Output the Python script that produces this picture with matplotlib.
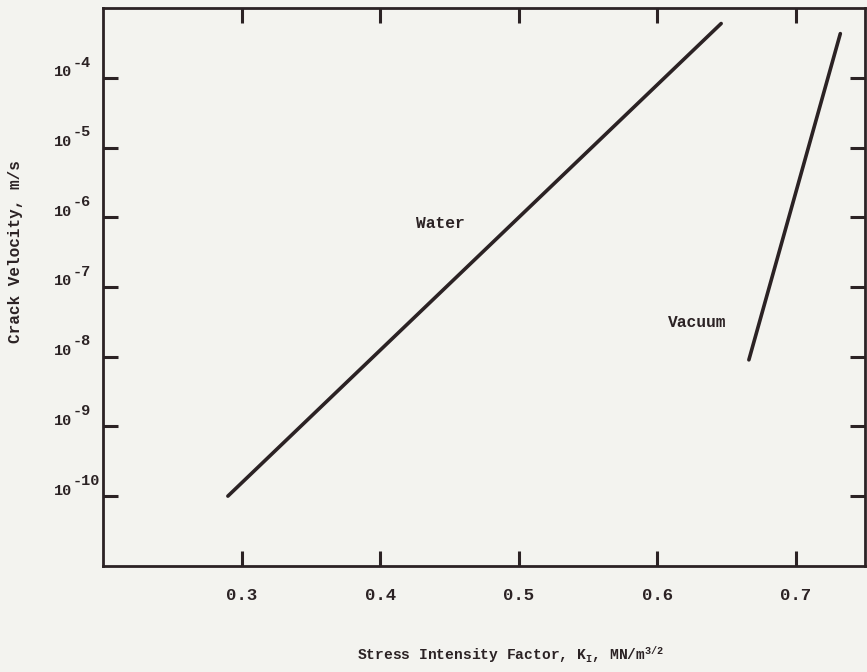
import matplotlib
matplotlib.use('Agg')
import matplotlib.pyplot as plt
import matplotlib.transforms as mtransforms
import numpy as np

# crack growth lines (K_I in MN/m^3/2, velocity in m/s)
water_k = [0.29, 0.646]
water_v = [1.0e-10, 6.0e-4]
vacuum_k = [0.666, 0.732]
vacuum_v = [9.0e-9, 4.3e-4]

x_ticks = [0.3, 0.4, 0.5, 0.6, 0.7]
y_exponents = [-4, -5, -6, -7, -8, -9, -10]

plt.rcParams['font.family'] = ['Liberation Mono', 'DejaVu Sans']
plt.rcParams['mathtext.fontset'] = 'custom'
plt.rcParams['mathtext.rm'] = 'Liberation Mono:bold'
plt.rcParams['mathtext.it'] = 'Liberation Mono:bold'
plt.rcParams['mathtext.bf'] = 'Liberation Mono:bold'

ink = '#2b2224'
paper = '#f3f3ef'

fig = plt.figure(figsize=(8.67, 6.72), dpi=100, facecolor=paper)
ax = fig.add_axes([0.119, 0.158, 0.879, 0.830], facecolor=paper)

ax.plot(water_k, water_v, color=ink, lw=2.6, solid_capstyle='round')
ax.plot(vacuum_k, vacuum_v, color=ink, lw=2.6, solid_capstyle='round')

ax.set_yscale('log')
ax.set_xlim(0.2, 0.75)
ax.set_ylim(1e-11, 1e-3)

ax.set_xticks(x_ticks)
ax.set_xticklabels(['%.1f' % v for v in x_ticks])
ax.set_yticks([10.0 ** e for e in y_exponents])
ax.set_yticklabels([])
ax.minorticks_off()

ax.tick_params(axis='both', which='major', direction='in', length=11, width=2.2,
               color=ink, labelcolor=ink, labelsize=12.5)
ax.tick_params(axis='x', top=True, labeltop=False, pad=16)
ax.tick_params(axis='y', right=True, labelright=False)
for lab in ax.get_xticklabels():
    lab.set_fontweight('bold')

# typewriter style decade labels: "10" with a full size raised exponent
ytrans = mtransforms.blended_transform_factory(ax.transAxes, ax.transData)
for e in y_exponents:
    base = mtransforms.offset_copy(ytrans, fig=fig, x=-22, y=4, units='points')
    ax.text(0, 10.0 ** e, '10', transform=base, fontsize=11, fontweight='bold',
            color=ink, ha='right', va='center')
    sup = mtransforms.offset_copy(ytrans, fig=fig, x=-22, y=11, units='points')
    ax.text(0, 10.0 ** e, '%d' % e, transform=sup, fontsize=11, fontweight='bold',
            color=ink, ha='left', va='center')

for sp in ax.spines.values():
    sp.set_linewidth(2.0)
    sp.set_color(ink)

ax.text(0.443, 8.0e-7, 'Water', fontsize=11.7, fontweight='bold', color=ink,
        ha='center', va='center')
ax.text(0.629, 3.1e-8, 'Vacuum', fontsize=11.7, fontweight='bold', color=ink,
        ha='center', va='center')

ax.set_xlabel('Stress Intensity Factor, K$_{\\mathrm{I}}$, MN/m$^{3/2}$',
              fontsize=10.5, fontweight='bold', color=ink)
ax.xaxis.set_label_coords(0.535, -0.14)
ax.set_ylabel('Crack Velocity, m/s', fontsize=11.5, fontweight='bold', color=ink)
ax.yaxis.set_label_coords(-0.105, 0.563)

fig.savefig('out.png', dpi=100, facecolor=paper)
